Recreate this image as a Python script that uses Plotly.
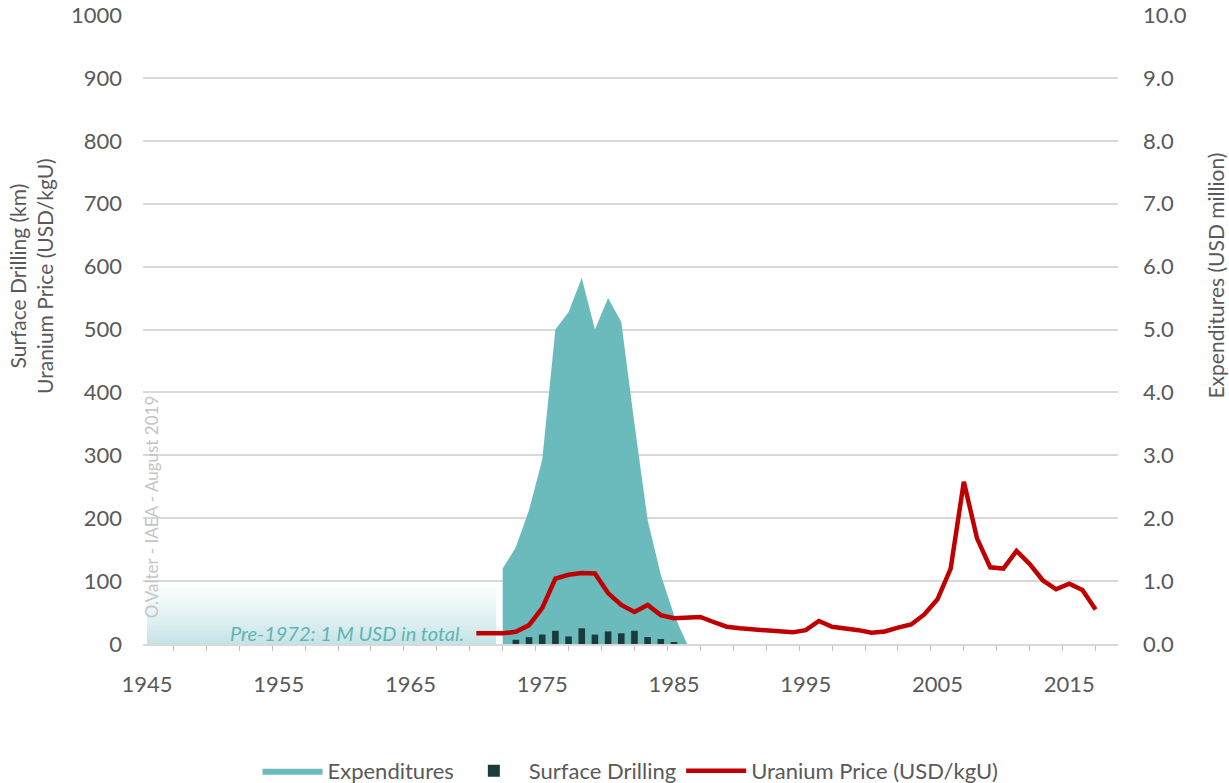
import plotly.graph_objects as go

# ---------------- data ----------------
exp_years = [1972, 1973, 1974, 1975, 1976, 1977, 1978, 1979, 1980, 1981, 1982, 1983, 1984, 1985, 1986]
expenditures = [1.2, 1.54, 2.13, 2.93, 5.0, 5.28, 5.82, 5.0, 5.5, 5.12, 3.5, 1.97, 1.1, 0.46, 0.0]  # USD million

drill_years = [1973, 1974, 1975, 1976, 1977, 1978, 1979, 1980, 1981, 1982, 1983, 1984, 1985]
surface_drilling = [6.7, 10.8, 15, 21, 12, 25, 15, 20, 17, 21, 11, 8, 3]  # km

price_years = list(range(1970, 2018))
uranium_price = [17, 17, 17, 19.5, 30, 57, 104, 110, 113, 112, 81, 62, 51, 62, 46, 41,
                 42, 43, 35, 27.5, 25, 23, 21, 19, 18.5, 22, 36.6, 27.5, 25, 22, 18, 20,
                 26, 31, 47, 71, 120, 258, 168, 122, 120, 148, 127, 101, 87, 96, 86, 55]  # USD/kgU

pre1972_years = [1945, 1971.5]
pre1972_level = [0.9, 0.9]  # USD million (visual band, 1 M USD in total)

x_tick_years = [1945, 1955, 1965, 1975, 1985, 1995, 2005, 2015]
left_ticks = list(range(0, 1001, 100))
right_ticks = [v / 10 for v in range(0, 101, 10)]

# ---------------- styles ----------------
FONT = "Lato"
GRAY = "#595959"
TEAL = "#6bbabc"
DARK = "#1b3a3b"
RED = "#c00000"
GRID = "#d9d9d9"

fig = go.Figure()

# pre-1972 gradient band (on expenditures axis = primary y, right side)
fig.add_trace(go.Scatter(
    x=pre1972_years, y=pre1972_level, mode="lines", line=dict(width=0),
    fill="tozeroy",
    fillgradient=dict(type="vertical", start=0, stop=pre1972_level[0],
                      colorscale=[[0, "rgba(196,227,230,1)"], [1, "rgba(240,248,249,0.5)"]]),
    showlegend=False, hoverinfo="skip", yaxis="y"))

fig.add_trace(go.Scatter(
    x=exp_years, y=expenditures, mode="lines", line=dict(width=0, color=TEAL),
    fill="tozeroy", fillcolor=TEAL, name="Expenditures", yaxis="y"))

fig.add_trace(go.Bar(
    x=drill_years, y=surface_drilling, width=0.5, marker=dict(color=DARK, line=dict(width=0)),
    name="Surface Drilling", yaxis="y2"))

fig.add_trace(go.Scatter(
    x=price_years, y=uranium_price, mode="lines", line=dict(color=RED, width=4.5),
    name="Uranium Price (USD/kgU)", yaxis="y2"))

fig.update_layout(
    width=1229, height=783,
    margin=dict(l=143, r=111, t=15, b=139, autoexpand=False),
    paper_bgcolor="white", plot_bgcolor="white",
    font=dict(family=FONT, color=GRAY, size=22),
    showlegend=True,
    legend=dict(orientation="h", x=0.5, xanchor="center", y=-0.202, yanchor="middle",
                font=dict(size=22, color=GRAY), traceorder="normal", itemwidth=60),
    xaxis=dict(range=[1944.7, 2018.7], tickvals=x_tick_years, ticktext=[str(v) for v in x_tick_years],
               showgrid=False, zeroline=False, showline=True, linecolor=GRID, linewidth=1.5,
               ticks="", ticklabelstandoff=20, tickfont=dict(size=22, color=GRAY), automargin=False,
               minor=dict(tick0=1944.5, dtick=2.5, ticks="outside", ticklen=5, tickcolor="#bfbfbf",
                          tickwidth=1, showgrid=False)),
    yaxis=dict(side="right", range=[0, 10], tickvals=right_ticks,
               ticktext=[f"{v:.1f}" for v in right_ticks],
               showgrid=True, gridcolor=GRID, gridwidth=1.5, zeroline=False, showline=False,
               ticks="", ticklabelstandoff=24, tickfont=dict(size=22, color=GRAY), automargin=False),
    yaxis2=dict(side="left", overlaying="y", range=[0, 1000], tickvals=left_ticks,
                showgrid=False, zeroline=False, showline=False, automargin=False,
                ticks="", ticklabelstandoff=20, tickfont=dict(size=22, color=GRAY)),
    annotations=[
        dict(text="Surface Drilling (km)<br>Uranium Price (USD/kgU)", textangle=-90,
             xref="paper", yref="paper", x=-0.115, y=0.585, xanchor="center", yanchor="middle",
             showarrow=False, font=dict(size=21, color=GRAY)),
        dict(text="Expenditures (USD million)", textangle=-90,
             xref="paper", yref="paper", x=1.1, y=0.585, xanchor="center", yanchor="middle",
             showarrow=False, font=dict(size=21, color=GRAY)),
        dict(text="O.Valter - IAEA - August 2019", textangle=-90,
             xref="paper", yref="paper", x=0.0095, y=0.218, xanchor="center", yanchor="middle",
             showarrow=False, font=dict(size=17, color="#c4c4c4")),
        dict(text="<i>Pre-1972: 1 M USD in total.</i>",
             xref="x", yref="y2", x=1969.2, y=uranium_price[0], xanchor="right", yanchor="middle",
             showarrow=False, font=dict(size=20, color="#5eb4b6")),
    ],
)

fig.write_html("out.html", config={"displayModeBar": False},
               post_script="document.body.style.margin='0';")
